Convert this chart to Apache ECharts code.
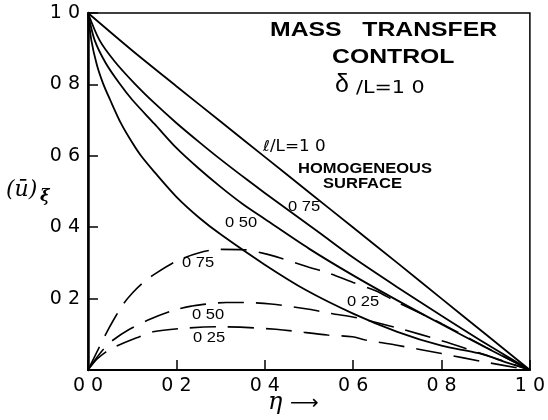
<!DOCTYPE html>
<html>
<head>
<meta charset="utf-8">
<script src="https://cdn.jsdelivr.net/npm/echarts@6/dist/echarts.min.js"></script>
<style>
  html, body { margin: 0; background: #fff; }
  #chart { width: 548px; height: 420px; }
</style>
</head>
<body>
<div id="chart"></div>
<script>
// tick values on both axes
const xTicks = [0, 0.2, 0.4, 0.6, 0.8, 1.0];
const yTicks = [0, 0.2, 0.4, 0.6, 0.8, 1.0];

// solid curves, l/L = 1.0 (homogeneous surface), 0.75, 0.50, 0.25
const solid100 = [[0,1],[0.1,0.895],[0.2,0.795],[0.3,0.696],[0.4,0.597],[0.5,0.498],[0.6,0.399],[0.7,0.3],[0.8,0.2],[0.9,0.1],[1,0]];
const solid075 = [[0,1],[0.026,0.924],[0.06,0.865],[0.105,0.803],[0.15,0.748],[0.2,0.692],[0.253,0.637],[0.3,0.59],[0.361,0.532],[0.4,0.496],[0.523,0.385],[0.6,0.315],[0.7,0.232],[0.8,0.152],[0.9,0.074],[1,0]];
const solid050 = [[0,1],[0.015,0.924],[0.04,0.86],[0.071,0.803],[0.1,0.757],[0.15,0.69],[0.2,0.622],[0.25,0.565],[0.3,0.513],[0.35,0.465],[0.4,0.423],[0.5,0.34],[0.6,0.265],[0.7,0.195],[0.8,0.128],[0.9,0.063],[1,0]];
const solid025 = [[0,1],[0.0075,0.924],[0.02,0.855],[0.034,0.803],[0.05,0.757],[0.075,0.69],[0.1,0.637],[0.12,0.6],[0.15,0.555],[0.2,0.485],[0.253,0.425],[0.3,0.38],[0.4,0.295],[0.493,0.224],[0.6,0.158],[0.7,0.107],[0.8,0.068],[0.884,0.047],[0.95,0.02],[1,0]];

// dashed curves, l/L = 0.75, 0.50, 0.25
const dash075 = [[0,0],[0.02,0.05],[0.04,0.1],[0.06,0.145],[0.08,0.185],[0.1,0.215],[0.125,0.245],[0.15,0.268],[0.2,0.305],[0.25,0.328],[0.3,0.338],[0.354,0.337],[0.4,0.326],[0.437,0.313],[0.5,0.288],[0.546,0.271],[0.6,0.245],[0.651,0.222],[0.7,0.19],[0.8,0.13],[0.9,0.064],[1,0]];
const dash050 = [[0,0],[0.02,0.035],[0.04,0.065],[0.057,0.084],[0.091,0.112],[0.14,0.142],[0.196,0.168],[0.234,0.179],[0.313,0.189],[0.35,0.189],[0.414,0.185],[0.5,0.17],[0.546,0.159],[0.613,0.145],[0.7,0.118],[0.8,0.082],[0.9,0.042],[1,0]];
const dash025 = [[0,0],[0.02,0.03],[0.04,0.05],[0.061,0.065],[0.114,0.092],[0.147,0.107],[0.219,0.117],[0.294,0.121],[0.425,0.114],[0.542,0.098],[0.598,0.093],[0.628,0.084],[0.696,0.07],[0.8,0.046],[0.9,0.022],[1,0]];

const chart = echarts.init(document.getElementById('chart'));

const tickFmt = v => v.toFixed(1).replace('.', ' ');
const labelFont = 'Liberation Sans, Arial, sans-serif';
const tickFont = 'DejaVu Sans, sans-serif';

function solid(data) {
  return {
    type: 'line', data: data, symbol: 'none', smooth: 0.3,
    lineStyle: { color: '#000', width: 1.8 }, silent: true
  };
}
function dashed(data) {
  return {
    type: 'line', data: data, symbol: 'none', smooth: 0.3,
    lineStyle: { color: '#000', width: 1.6, type: [26, 12] }, silent: true
  };
}

// lettering in the scan is wider than Liberation, so stretch it a bit
function txt(x, y, text, size, extra, sx) {
  return {
    type: 'text', left: x, top: y, scaleX: sx || 1.18,
    style: Object.assign({ text: text, fontSize: size, fontFamily: labelFont, fill: '#000' }, extra || {})
  };
}

chart.setOption({
  animation: false,
  backgroundColor: '#fff',
  grid: { left: 88, right: 16, top: 13, bottom: 50, show: true, borderColor: '#000', borderWidth: 1.5 },
  xAxis: {
    type: 'value', min: 0, max: 1, interval: 0.2,
    axisLine: { lineStyle: { color: '#000', width: 2 } },
    axisTick: { inside: true, length: 10, lineStyle: { color: '#000', width: 1.5 } },
    splitLine: { show: false },
    axisLabel: {
      margin: 7, color: '#000', fontSize: 19, fontFamily: tickFont,
      formatter: v => xTicks.some(t => Math.abs(t - v) < 1e-6) ? tickFmt(v) : ''
    }
  },
  yAxis: {
    type: 'value', min: 0, max: 1, interval: 0.2,
    axisLine: { lineStyle: { color: '#000', width: 2.5 } },
    axisTick: { inside: true, length: 10, lineStyle: { color: '#000', width: 1.5 } },
    splitLine: { show: false },
    axisLabel: {
      margin: 8, color: '#000', fontSize: 19, fontFamily: tickFont,
      formatter: v => (v === 0 || !yTicks.some(t => Math.abs(t - v) < 1e-6)) ? '' : tickFmt(v)
    }
  },
  series: [
    solid(solid100), solid(solid075), solid(solid050), solid(solid025),
    dashed(dash075), dashed(dash050), dashed(dash025)
  ],
  graphic: [
    txt(270, 20, 'MASS   TRANSFER', 21, { fontWeight: 'bold' }),
    txt(332, 47, 'CONTROL', 21, { fontWeight: 'bold' }),
    txt(335, 73, 'δ', 25, null, 1),
    txt(356, 79, '/L=1 0', 18, { fontFamily: tickFont }, 1.15),
    txt(263, 140, 'ℓ/L=1 0', 15, { fontFamily: tickFont }, 1.12),
    txt(298, 162, 'HOMOGENEOUS', 14, { fontWeight: 'bold' }),
    txt(323, 177, 'SURFACE', 14, { fontWeight: 'bold' }),
    txt(288, 200, '0 75', 14),
    txt(225, 216, '0 50', 14),
    txt(182, 256, '0 75', 14),
    txt(192, 308, '0 50', 14),
    txt(193, 331, '0 25', 14),
    txt(347, 295, '0 25', 14),
    txt(6, 179, '(ū)', 22, { fontFamily: 'DejaVu Serif', fontStyle: 'italic' }, 1),
    txt(40, 189, 'ξ', 16, { fontFamily: 'DejaVu Serif', fontStyle: 'italic', fontWeight: 'bold' }, 1),
    txt(268, 391, 'η', 24, { fontFamily: 'DejaVu Serif', fontStyle: 'italic' }, 1),
    txt(290, 394, '⟶', 20, { fontFamily: 'DejaVu Sans' }, 1)
  ]
});
</script>
</body>
</html>
